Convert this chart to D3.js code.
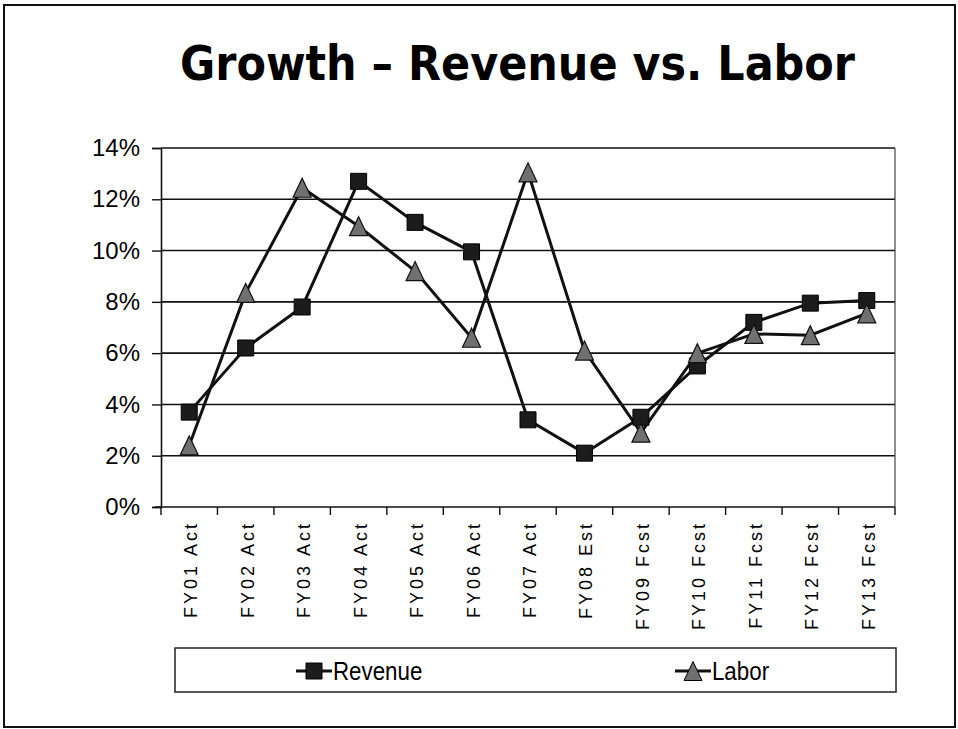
<!DOCTYPE html>
<html>
<head>
<meta charset="utf-8">
<script src="https://cdn.jsdelivr.net/npm/d3@7"></script>
<style>
  body { margin: 0; background: #fff; }
  svg { display: block; }
</style>
</head>
<body>
<div id="chart"></div>
<script>
"use strict"

// chart data
let categories = ["FY01 Act","FY02 Act","FY03 Act","FY04 Act","FY05 Act","FY06 Act","FY07 Act",
	"FY08 Est","FY09 Fcst","FY10 Fcst","FY11 Fcst","FY12 Fcst","FY13 Fcst"];
let revenue = [3.7, 6.2, 7.8, 12.7, 11.1, 9.95, 3.4, 2.1, 3.5, 5.5, 7.2, 7.95, 8.05];
let labor = [2.4, 8.35, 12.45, 10.95, 9.2, 6.6, 13.05, 6.1, 2.9, 6.0, 6.75, 6.7, 7.55];
let yTicks = [0, 2, 4, 6, 8, 10, 12, 14];
let seriesNames = ["Revenue", "Labor"];

let totalWidth = 958, totalHeight = 729;
let margin = {left: 161, right: 63, top: 148, bottom: 222};
let width = totalWidth - margin.left - margin.right;
let height = totalHeight - margin.top - margin.bottom;

let svg = d3.select("#chart").append("svg")
	.attr("width", totalWidth)
	.attr("height", totalHeight);

// slide frame
svg.append("rect")
	.attr("x", 4).attr("y", 5)
	.attr("width", 951).attr("height", 722)
	.attr("fill", "none")
	.attr("stroke", "#111")
	.attr("stroke-width", 2);

svg.append("text")
	.attr("x", 180).attr("y", 80)
	.attr("text-anchor", "start")
	.attr("font-family", "'DejaVu Sans Condensed', 'DejaVu Sans', sans-serif")
	.attr("font-weight", "bold")
	.attr("font-size", 48)
	.attr("textLength", 675)
	.attr("lengthAdjust", "spacingAndGlyphs")
	.attr("fill", "#000")
	.text("Growth \u2013 Revenue vs. Labor");

let xScale = d3.scaleBand().domain(categories).range([0, width]);
let yScale = d3.scaleLinear().domain([0, 14]).range([height, 0]);

let g = svg.append("g")
	.attr("transform", `translate(${margin.left},${margin.top})`);

// horizontal gridlines
g.append("g")
	.selectAll("line")
	.data(yTicks.filter(d => d > 0))
	.enter().append("line")
		.attr("x1", 0).attr("x2", width)
		.attr("y1", d => yScale(d)).attr("y2", d => yScale(d))
		.attr("stroke", "#111")
		.attr("stroke-width", 1.6);

// right edge of plot area
g.append("line")
	.attr("x1", width).attr("x2", width)
	.attr("y1", 0).attr("y2", height)
	.attr("stroke", "#444")
	.attr("stroke-width", 1.2);

let yAxis = g.append("g")
	.call(d3.axisLeft(yScale).tickValues(yTicks).tickFormat(d => d + "%").tickSize(9).tickPadding(12));
yAxis.select(".domain").attr("stroke", "#111").attr("stroke-width", 1.6);
yAxis.selectAll(".tick line").attr("stroke", "#111").attr("stroke-width", 1.4);
yAxis.selectAll("text")
	.attr("font-family", "'Liberation Sans', Arial, sans-serif")
	.attr("font-size", 24)
	.attr("fill", "#000");

// x axis: ticks sit between categories
let xAxis = g.append("g")
	.attr("transform", `translate(0,${height})`);
xAxis.append("line")
	.attr("x1", -6).attr("x2", width)
	.attr("stroke", "#111").attr("stroke-width", 1.6);
xAxis.selectAll(".xtick")
	.data(categories.map(c => xScale(c)).concat([width]))
	.enter().append("line")
		.attr("x1", d => d).attr("x2", d => d)
		.attr("y1", 0).attr("y2", 8)
		.attr("stroke", "#111").attr("stroke-width", 1.4);
xAxis.selectAll(".xlabel")
	.data(categories)
	.enter().append("text")
		.attr("transform", d => `translate(${xScale(d) + xScale.bandwidth() / 2 + 8},14) rotate(-90)`)
		.attr("text-anchor", "end")
		.attr("font-family", "'Liberation Sans', Arial, sans-serif")
		.attr("font-size", 18)
		.attr("letter-spacing", 3)
		.attr("fill", "#000")
		.text(d => d);

let line = d3.line()
	.x((d, i) => xScale(categories[i]) + xScale.bandwidth() / 2)
	.y(d => yScale(d));

[revenue, labor].forEach(series => {
	g.append("path")
		.datum(series)
		.attr("d", line)
		.attr("fill", "none")
		.attr("stroke", "#111")
		.attr("stroke-width", 3);
});

let square = d3.symbol().type(d3.symbolSquare).size(256);
// Excel's triangle marker is a bit taller than equilateral
let tallTriangle = {
	draw(context, size) {
		let w = 9, h = 9.5;
		context.moveTo(0, -h);
		context.lineTo(w, h);
		context.lineTo(-w, h);
		context.closePath();
	}
};
let triangle = d3.symbol().type(tallTriangle);

g.append("g").selectAll("path")
	.data(revenue)
	.enter().append("path")
		.attr("d", square)
		.attr("transform", (d, i) => `translate(${xScale(categories[i]) + xScale.bandwidth() / 2},${yScale(d)})`)
		.attr("fill", "#1c1c1c")
		.attr("stroke", "#000")
		.attr("stroke-width", 1);

g.append("g").selectAll("path")
	.data(labor)
	.enter().append("path")
		.attr("d", triangle)
		.attr("transform", (d, i) => `translate(${xScale(categories[i]) + xScale.bandwidth() / 2},${yScale(d)})`)
		.attr("fill", "#707070")
		.attr("stroke", "#111")
		.attr("stroke-width", 1.2);

// legend
let legend = svg.append("g");
legend.append("rect")
	.attr("x", 175).attr("y", 648)
	.attr("width", 721).attr("height", 44)
	.attr("fill", "#fff")
	.attr("stroke", "#222")
	.attr("stroke-width", 1.5);

let legendItems = legend.selectAll(".item")
	.data(seriesNames)
	.enter().append("g")
		.attr("transform", (d, i) => `translate(${i === 0 ? 314 : 693},671)`);
legendItems.append("line")
	.attr("x1", -18).attr("x2", 18)
	.attr("stroke", "#111").attr("stroke-width", 3);
legendItems.append("path")
	.attr("d", (d, i) => i === 0 ? square() : triangle())
	.attr("fill", (d, i) => i === 0 ? "#1c1c1c" : "#707070")
	.attr("stroke", "#000");
legendItems.append("text")
	.attr("x", 22).attr("y", 9)
	.attr("font-family", "'Liberation Sans', Arial, sans-serif")
	.attr("font-size", 26)
	.attr("transform", "scale(0.86,1)")
	.attr("fill", "#000")
	.text(d => d);
</script>
</body>
</html>
